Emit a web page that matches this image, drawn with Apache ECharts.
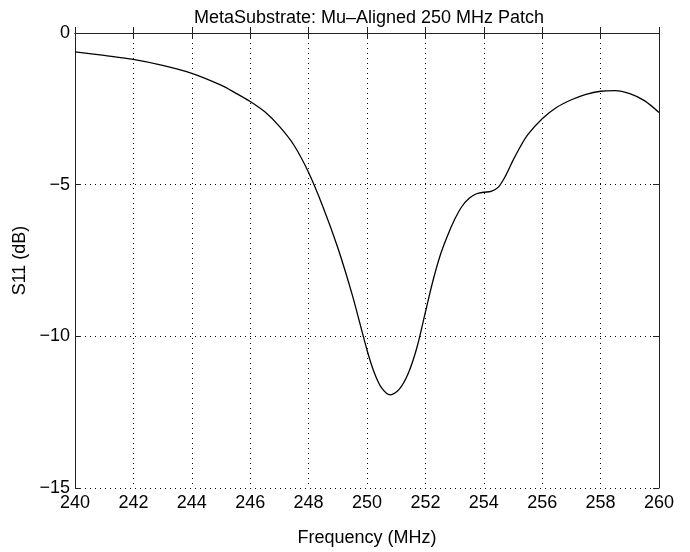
<!DOCTYPE html>
<html>
<head>
<meta charset="utf-8">
<script src="https://cdn.jsdelivr.net/npm/echarts@6/dist/echarts.min.js"></script>
<style>
  html, body { margin: 0; padding: 0; background: #fff; }
  #chart { width: 690px; height: 552px; }
</style>
</head>
<body>
<div id="chart"></div>
<script>
// frequency (MHz) and S11 (dB)
var freq = [240, 241, 242, 243, 244, 245, 245.5, 246, 246.5, 247, 247.5, 248, 248.5, 249, 249.5,
            250, 250.25, 250.5, 250.8, 251.1, 251.4, 251.7, 252, 252.25, 252.5, 252.75, 253,
            253.25, 253.5, 253.75, 254, 254.25, 254.5, 254.75, 255, 255.25, 255.5, 256, 256.5,
            257, 257.5, 258, 258.5, 259, 259.5, 260];
var s11 = [-0.62, -0.74, -0.87, -1.07, -1.33, -1.72, -1.98, -2.26, -2.6, -3.08, -3.7, -4.6, -5.75, -7.08, -8.65,
           -10.45, -11.2, -11.7, -11.93, -11.75, -11.25, -10.4, -9.2, -8.2, -7.35, -6.7, -6.15,
           -5.72, -5.45, -5.3, -5.25, -5.22, -5.08, -4.7, -4.2, -3.75, -3.36, -2.83, -2.45,
           -2.2, -2.02, -1.92, -1.9, -2.0, -2.23, -2.62];
var xTicks = [240, 260, 2];
var yTicks = [-15, 0, 5];

var pts = freq.map(function (f, i) { return [f, s11[i]]; });
var font = 'Liberation Sans, Arial, Helvetica, sans-serif';
var minus = function (v) { return String(v).replace('-', '\u2212'); };

var chart = echarts.init(document.getElementById('chart'));
var option = {
    backgroundColor: '#fff',
    animation: false,
    title: {
        text: 'MetaSubstrate: Mu\u2013Aligned 250 MHz Patch',
        left: 364,
        textAlign: 'center',
        top: 4,
        textStyle: { fontFamily: font, fontSize: 18, fontWeight: 'normal', color: '#000' }
    },
    grid: { left: 75, right: 31, top: 33, bottom: 57 },
    xAxis: [{
        type: 'value',
        min: xTicks[0], max: xTicks[1], interval: xTicks[2],
        name: 'Frequency (MHz)',
        nameLocation: 'middle',
        nameGap: 41,
        nameTextStyle: { fontFamily: font, fontSize: 18, color: '#000' },
        axisLine: { lineStyle: { color: '#222', width: 1 } },
        axisTick: { inside: true, length: 6, lineStyle: { color: '#222' } },
        axisLabel: { fontFamily: font, fontSize: 18, color: '#000', margin: 6 },
        splitLine: { show: true, lineStyle: { color: '#000', type: [1, 4], width: 1 } }
    }, {
        type: 'value', position: 'top',
        min: xTicks[0], max: xTicks[1], interval: xTicks[2],
        axisLine: { lineStyle: { color: '#222', width: 1 } },
        axisTick: { inside: true, length: 6, lineStyle: { color: '#222' } },
        axisLabel: { show: false },
        splitLine: { show: false }
    }],
    yAxis: [{
        type: 'value',
        min: yTicks[0], max: yTicks[1], interval: yTicks[2],
        name: 'S11 (dB)',
        nameLocation: 'middle',
        nameGap: 37,
        nameTextStyle: { fontFamily: font, fontSize: 18, color: '#000' },
        axisLine: { lineStyle: { color: '#222', width: 1 } },
        axisTick: { inside: true, length: 6, lineStyle: { color: '#222' } },
        axisLabel: { fontFamily: font, fontSize: 18, color: '#000', margin: 5, formatter: minus },
        splitLine: { show: true, lineStyle: { color: '#000', type: [1, 4], width: 1 } }
    }, {
        type: 'value', position: 'right',
        min: yTicks[0], max: yTicks[1], interval: yTicks[2],
        axisLine: { show: true, lineStyle: { color: '#222', width: 1 } },
        axisTick: { show: true, inside: true, length: 6, lineStyle: { color: '#222' } },
        axisLabel: { show: false },
        splitLine: { show: false }
    }],
    series: [{
        type: 'line',
        data: pts,
        smooth: 0.3,
        showSymbol: false,
        lineStyle: { color: '#000', width: 1.3 }
    }]
};
chart.setOption(option);
</script>
</body>
</html>
